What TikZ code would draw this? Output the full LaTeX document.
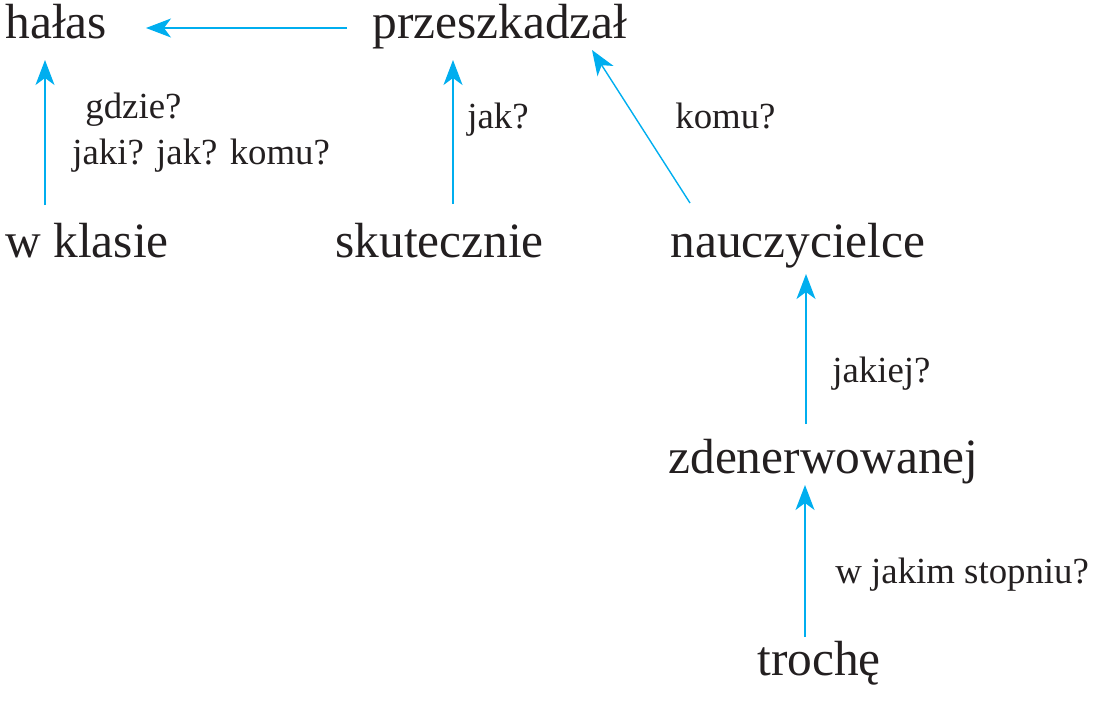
\documentclass[tikz,border=0pt]{standalone}
\usepackage{fontspec}
\setmainfont{Liberation Serif}
\usetikzlibrary{arrows.meta}
\definecolor{askcyan}{RGB}{0,174,239}
\definecolor{inkblack}{RGB}{35,31,32}

\begin{document}
\begin{tikzpicture}[x=0.5pt, y=-0.5pt,
    word/.style={anchor=base west, inner sep=0pt, text=inkblack, font=\fontsize{24.7}{29}\selectfont},
    question/.style={anchor=base west, inner sep=0pt, text=inkblack, font=\fontsize{18.4}{22}\selectfont},
    link/.style={color=askcyan, line width=0.7pt, -{Stealth[length=12.5pt, width=9.5pt, inset=3.5pt]}}]
    \useasboundingbox (0,0) rectangle (1106,702);

    % Words of the sentence
    \node[word] (halas) at (5,38) {hałas};
    \node[word] (przesz) at (372,38) {przeszkadzał};
    \node[word] (klasie) at (5,257) {w klasie};
    \node[word] (skut) at (335,257) {skutecznie};
    \node[word] (naucz) at (670,257) {nauczycielce};
    \node[word] (zden) at (668,473) {zdenerwowanej};
    \node[word] (troche) at (757,675) {trochę};

    % Questions
    \node[question] (gdzie) at (85,118) {gdzie?};
    \node[question] (jakijak) at (72,164) {jaki? jak? komu?};
    \node[question] (jak) at (467,128) {jak?};
    \node[question] (komu) at (675,128) {komu?};
    \node[question] (jakiej) at (832,382) {jakiej?};
    \node[question] (stopniu) at (835,583) {w jakim stopniu?};

    % Links
    \draw[link] ([shift={(-25,-10)}]przesz.base west) -- ([shift={(141,-10)}]halas.base west);
    \draw[link] ([shift={(40,-52)}]klasie.base west) -- ([shift={(40,22)}]halas.base west);
    \draw[link] ([shift={(118,-53)}]skut.base west) -- ([shift={(81,22)}]przesz.base west);
    \draw[link] ([shift={(20,-54)}]naucz.base west) -- ([shift={(220,12)}]przesz.base west);
    \draw[link] ([shift={(138,-49)}]zden.base west) -- ([shift={(136,17)}]naucz.base west);
    \draw[link] ([shift={(48,-38)}]troche.base west) -- ([shift={(137,12)}]zden.base west);
\end{tikzpicture}
\end{document}
